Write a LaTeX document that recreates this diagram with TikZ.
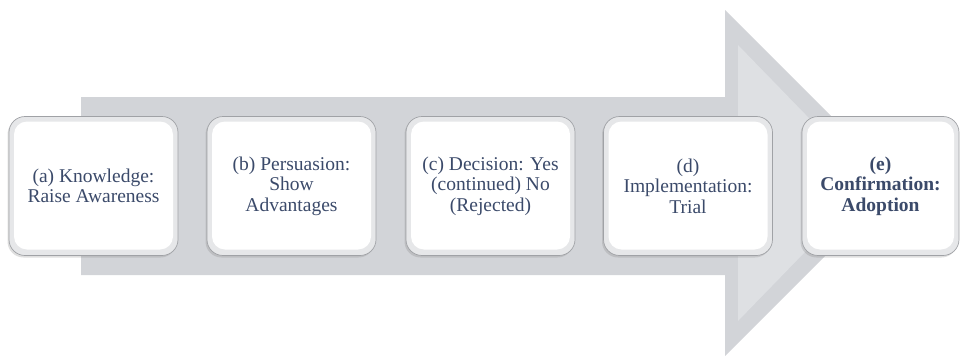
\documentclass[tikz,border=0pt]{standalone}
\usepackage{fontspec}
\setmainfont{Liberation Serif}
\usetikzlibrary{shadows}
\definecolor{arrowgray}{RGB}{210,212,216}
\definecolor{arrowlight}{RGB}{222,224,227}
\definecolor{txt}{RGB}{59,74,106}
\definecolor{rimgray}{RGB}{230,231,233}
\definecolor{edgegray}{RGB}{160,162,166}
\begin{document}
\begin{tikzpicture}[x=1pt,y=-1pt,
  stage/.style={rounded corners=16pt, minimum height=139pt,
    inner sep=0pt, align=center, fill=rimgray, draw=edgegray, line width=0.7pt,
    font=\fontsize{19.5}{20.5}\selectfont, text=txt,
    drop shadow={shadow xshift=-1.5pt, shadow yshift=-2pt, opacity=0.25},
    path picture={\fill[white, rounded corners=13pt]
      ([shift={(5pt,-5pt)}]path picture bounding box.north west) rectangle
      ([shift={(-5pt,6pt)}]path picture bounding box.south east);}},
  wide/.style={minimum width=169pt},
  narrow/.style={minimum width=157pt}]
\useasboundingbox (0,0) rectangle (961,356);
% big arrow
\fill[arrowgray] (81,97) -- (725,97) -- (725,10) -- (898,183) -- (725,356)
  -- (725,275) -- (81,275) -- cycle;
\fill[arrowlight] (738,45) -- (872,183) -- (738,321) -- cycle;
% stages
\node[stage, wide] (a) at (93.5,186) {(a) Knowledge:\\Raise Awareness};
\node[stage, wide] (b) at (291.5,186) {(b) Persuasion:\\Show\\Advantages};
\node[stage, wide] (c) at (490.5,186) {(c) Decision: Yes\\(continued) No\\(Rejected)};
\node[stage, wide] (d) at (688,186) {(d)\\Implementation:\\Trial};
\node[stage, narrow, font=\fontsize{19.5}{20.5}\selectfont\bfseries] (e) at (880.5,186) {(e)\\Confirmation:\\Adoption};
\end{tikzpicture}
\end{document}
